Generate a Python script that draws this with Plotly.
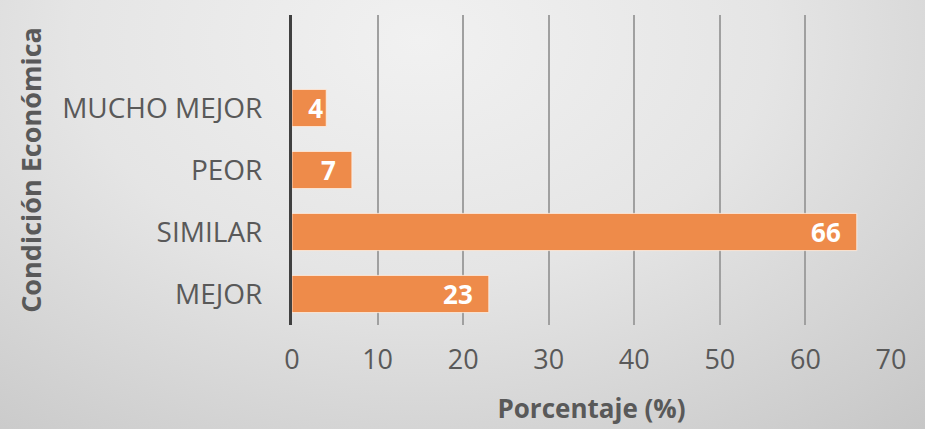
import base64
import plotly.graph_objects as go

categories = ["MEJOR", "SIMILAR", "PEOR", "MUCHO MEJOR"]
values = [23, 66, 7, 4]
axis_order = ["MEJOR", "SIMILAR", "PEOR", "MUCHO MEJOR", " "]
x_ticks = [0, 10, 20, 30, 40, 50, 60, 70]

W, H = 925, 429
ML, MR, MT, MB = 292, 34, 15, 104
PW, PH = W - ML - MR, H - MT - MB

svg = f'''<svg xmlns="http://www.w3.org/2000/svg" width="{W}" height="{H}" viewBox="0 0 {W} {H}" preserveAspectRatio="none">
<defs><radialGradient id="g" gradientUnits="userSpaceOnUse" cx="420" cy="40" r="620" gradientTransform="translate(420 40) scale(1.25 0.85) translate(-420 -40)">
<stop offset="0" stop-color="#F1F1F1"/><stop offset="0.45" stop-color="#E5E5E5"/><stop offset="1" stop-color="#C6C6C6"/></radialGradient></defs>
<rect width="{W}" height="{H}" fill="url(#g)"/></svg>'''
src = "data:image/svg+xml;base64," + base64.b64encode(svg.encode()).decode()

labels = [f"{v}\u2002" if v >= 7 else str(v) for v in values]

fig = go.Figure(go.Bar(
    y=categories, x=values, orientation="h",
    marker=dict(color="#EE8B4A", line=dict(color="rgba(255,240,230,0.8)", width=1)),
    width=0.6,
    text=labels, textposition="inside", insidetextanchor="end", textangle=0,
    textfont=dict(family="Open Sans", size=26, color="white", weight="bold"),
    constraintext="none", cliponaxis=False, hoverinfo="skip",
))

fig.update_layout(
    width=W, height=H,
    margin=dict(l=ML, r=MR, t=MT, b=MB, autoexpand=False),
    paper_bgcolor="#DDDDDD", plot_bgcolor="rgba(0,0,0,0)",
    showlegend=False,
    font=dict(family="Open Sans", color="#595959"),
    images=[dict(source=src, xref="paper", yref="paper",
                 x=-ML / PW, y=1 + MT / PH, sizex=W / PW, sizey=H / PH,
                 xanchor="left", yanchor="top", sizing="stretch", layer="below")],
    xaxis=dict(range=[0, 70], tickvals=x_ticks, showgrid=True, gridcolor="#A0A0A0", gridwidth=2,
               zeroline=False, showline=False, ticks="", ticklabelstandoff=16,
               tickfont=dict(size=27, color="#595959"),
               title=dict(text="Porcentaje (%)", standoff=23,
                          font=dict(size=26, color="#595959", weight="bold"))),
    yaxis=dict(categoryorder="array", categoryarray=axis_order, range=[-0.5, 4.5],
               showgrid=False, zeroline=False, showline=True, linecolor="#404040", linewidth=3,
               ticks="", ticklabelstandoff=21, tickfont=dict(size=28, color="#595959"),
               title=dict(text="Condición Económica", standoff=13,
                          font=dict(size=27, color="#595959", weight="bold"))),
)

fig.write_html("out.html", config={"displayModeBar": False, "staticPlot": True},
               post_script="document.body.style.margin='0';document.body.style.overflow='hidden';")
